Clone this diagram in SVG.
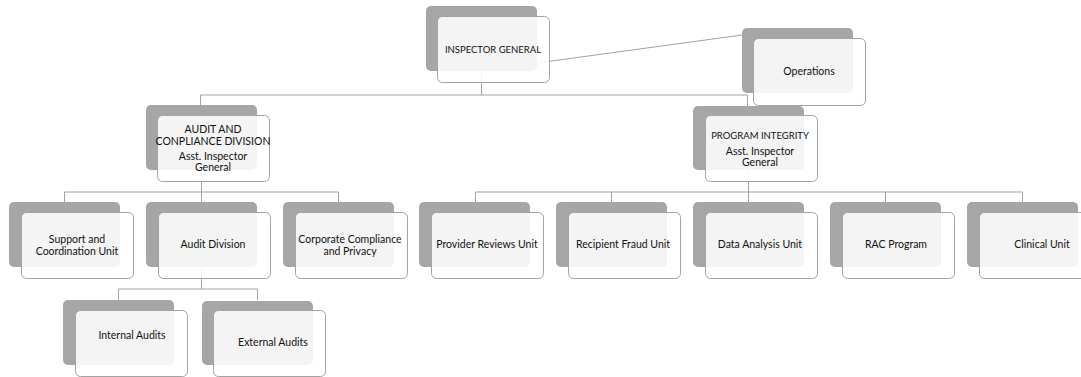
<svg xmlns="http://www.w3.org/2000/svg" width="1081" height="377" viewBox="0 0 1081 377">
<style>
.bk{fill:#a6a6a6}
.fr{fill:#fff;fill-opacity:0.88;stroke:#a3a3a3;stroke-width:1}
.cn{fill:none;stroke:#a3a3a3;stroke-width:1}
text{font-family:Lato,"Liberation Sans",Arial,sans-serif;font-size:10.5px;fill:#111;text-anchor:middle}
.sm{font-size:9.5px}
</style>
<rect width="1081" height="377" fill="#fff"/>
<g id="connectors">
<path class="cn" d="M481.5 71V95M200.5 95H747.5M200.5 95V105M747.5 95V106"/>
<path class="cn" d="M537 63L742 35"/>
<path class="cn" d="M201.5 170V192M64.5 192H338.5M64.5 192V202M201.5 192V202M338.5 192V202"/>
<path class="cn" d="M748.5 170V192M475.5 192H1022.5M475.5 192V202M611.5 192V202M748.5 192V202M885.5 192V202M1022.5 192V202"/>
<path class="cn" d="M201.5 267V289M118.5 289H257.5M118.5 289V300M257.5 289V300"/>
</g>
<g id="n-ig"><rect class="bk" x="426" y="6" width="111" height="65" rx="5"/><rect class="fr" x="437.5" y="16.5" width="112" height="66" rx="5"/><text class="sm" x="493" y="53">INSPECTOR GENERAL</text></g>
<g id="n-ops"><rect class="bk" x="742" y="28" width="111" height="65" rx="5"/><rect class="fr" x="753.5" y="38.5" width="112" height="67" rx="5"/><text x="809" y="75">Operations</text></g>
<g id="n-acd"><rect class="bk" x="146" y="105" width="111" height="65" rx="5"/><rect class="fr" x="157.5" y="115.5" width="112" height="66" rx="5"/><text x="213" y="133">AUDIT AND</text><text x="213" y="145">CONPLIANCE DIVISION</text><text x="213" y="160">Asst. Inspector</text><text x="213" y="171">General</text></g>
<g id="n-pi"><rect class="bk" x="693" y="106" width="111" height="64" rx="5"/><rect class="fr" x="705.5" y="115.5" width="112" height="66" rx="5"/><text class="sm" x="760" y="139">PROGRAM INTEGRITY</text><text x="760" y="155">Asst. Inspector</text><text x="760" y="166">General</text></g>
<g id="n-support"><rect class="bk" x="9" y="202" width="111" height="65" rx="5"/><rect class="fr" x="21.5" y="212.5" width="112" height="66" rx="5"/><text x="77" y="243">Support and</text><text x="77" y="255">Coordination Unit</text></g>
<g id="n-auditdiv"><rect class="bk" x="146" y="202" width="111" height="65" rx="5"/><rect class="fr" x="158.5" y="212.5" width="112" height="66" rx="5"/><text x="213" y="248">Audit Division</text></g>
<g id="n-corp"><rect class="bk" x="283" y="202" width="111" height="65" rx="5"/><rect class="fr" x="295.5" y="212.5" width="112" height="66" rx="5"/><text x="350" y="243">Corporate Compliance</text><text x="350" y="255">and Privacy</text></g>
<g id="n-provider"><rect class="bk" x="419" y="202" width="111" height="65" rx="5"/><rect class="fr" x="431.5" y="212.5" width="112" height="66" rx="5"/><text x="487" y="248">Provider Reviews Unit</text></g>
<g id="n-recipient"><rect class="bk" x="556" y="202" width="111" height="65" rx="5"/><rect class="fr" x="568.5" y="212.5" width="112" height="66" rx="5"/><text x="623" y="248">Recipient Fraud Unit</text></g>
<g id="n-data"><rect class="bk" x="693" y="202" width="111" height="65" rx="5"/><rect class="fr" x="705.5" y="212.5" width="112" height="66" rx="5"/><text x="760" y="248">Data Analysis Unit</text></g>
<g id="n-rac"><rect class="bk" x="830" y="202" width="111" height="65" rx="5"/><rect class="fr" x="842.5" y="212.5" width="112" height="66" rx="5"/><text x="896" y="248">RAC Program</text></g>
<g id="n-clinical"><rect class="bk" x="967" y="202" width="111" height="65" rx="5"/><rect class="fr" x="979.5" y="212.5" width="112" height="66" rx="5"/><text x="1042" y="248">Clinical Unit</text></g>
<g id="n-internal"><rect class="bk" x="63" y="300" width="111" height="65" rx="5"/><rect class="fr" x="75.5" y="310.5" width="112" height="66" rx="5"/><text x="132" y="339">Internal Audits</text></g>
<g id="n-external"><rect class="bk" x="202" y="301" width="111" height="64" rx="5"/><rect class="fr" x="213.5" y="310.5" width="112" height="66" rx="5"/><text x="273" y="346">External Audits</text></g>
</svg>
